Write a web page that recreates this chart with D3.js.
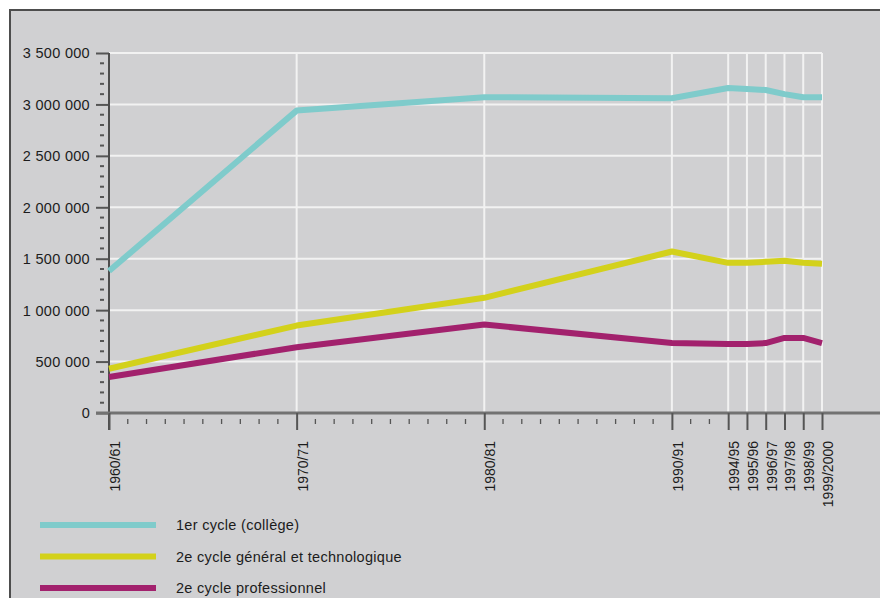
<!DOCTYPE html>
<html><head><meta charset="utf-8">
<script src="https://cdn.jsdelivr.net/npm/d3@7"></script>
<style>
body{margin:0;background:#fff}
svg{display:block}
text{font-family:"Liberation Sans",Arial,sans-serif;fill:#1c1c1c}
</style></head>
<body><svg id="c" width="880" height="598"></svg>
<script>
// ---- data ----
const periods = ["1960/61","1970/71","1980/81","1990/91","1994/95","1995/96","1996/97","1997/98","1998/99","1999/2000"];
const slots   = [0,10,20,30,33,34,35,36,37,38];           // axis position of each period (year slots)
const college       = [1380000,2940000,3070000,3060000,3160000,3150000,3140000,3100000,3070000,3070000];
const generalTechno = [430000,850000,1120000,1570000,1460000,1460000,1470000,1480000,1460000,1450000];
const professionnel = [350000,640000,860000,680000,670000,670000,680000,730000,730000,680000];
const seriesNames = ["1er cycle (collège)","2e cycle général et technologique","2e cycle professionnel"];
const seriesColors = ["#7fcbcb","#d3d11b","#a2216d"];
const yTicks = [0,500000,1000000,1500000,2000000,2500000,3000000,3500000];

const svg = d3.select("#c");
const bg = "#d0d0d2";
svg.append("rect").attr("x",10).attr("y",10).attr("width",880).attr("height",600).attr("fill",bg);
svg.append("path").attr("d","M10,598V10H880").attr("fill","none").attr("stroke","#4d4d4d").attr("stroke-width",2);

const x = d3.scaleLinear().domain([0,38]).range([109,822]);
const y = d3.scaleLinear().domain([0,3500000]).range([413,53]);

// grid
const g = svg.append("g");
g.selectAll(".hg").data(yTicks.filter(d=>d>0)).join("line")
  .attr("x1",x(0)).attr("x2",x(38)).attr("y1",d=>y(d)).attr("y2",d=>y(d))
  .attr("stroke","#f2f2f2").attr("stroke-width",2);
g.selectAll(".vg").data(slots.slice(1)).join("line")
  .attr("x1",d=>x(d)).attr("x2",d=>x(d)).attr("y1",y(3500000)).attr("y2",y(0))
  .attr("stroke","#f2f2f2").attr("stroke-width",2);

// minor y ticks
const minorY = d3.range(100000,3500000,100000).filter(v=>v%500000!==0);
svg.selectAll(".my").data(minorY).join("line")
  .attr("x1",100).attr("x2",104).attr("y1",d=>y(d)).attr("y2",d=>y(d))
  .attr("stroke","#555").attr("stroke-width",2);
// minor x ticks
const minorX = d3.range(0,39).filter(s=>!slots.includes(s));
svg.selectAll(".mx").data(minorX).join("line")
  .attr("x1",d=>x(d)).attr("x2",d=>x(d)).attr("y1",419).attr("y2",424)
  .attr("stroke","#555").attr("stroke-width",1.3);

// y axis
const loc = d3.formatLocale({decimal:",",thousands:" ",grouping:[3],currency:["","€"]});
const yAxis = d3.axisLeft(y).tickValues(yTicks).tickSize(13).tickPadding(6).tickFormat(loc.format(","));
const ya = svg.append("g").attr("transform",`translate(${x(0)},0)`).call(yAxis);
ya.select(".domain").remove();
ya.selectAll(".tick line").attr("stroke","#555").attr("stroke-width",2);
ya.selectAll(".tick text").attr("font-size",14.5).attr("fill","#1c1c1c").style("letter-spacing","0.3px").attr("dy","0.34em");
svg.append("line").attr("x1",x(0)).attr("x2",x(0)).attr("y1",y(3500000)).attr("y2",430).attr("stroke","#4d4d4d").attr("stroke-width",2);

// x axis
svg.append("line").attr("x1",96).attr("x2",880).attr("y1",y(0)).attr("y2",y(0)).attr("stroke","#727272").attr("stroke-width",3);
const xa = svg.append("g").attr("transform",`translate(0,${y(0)})`)
  .call(d3.axisBottom(x).tickValues(slots).tickSize(17).tickFormat((d,i)=>periods[i]));
xa.select(".domain").remove();
xa.selectAll(".tick line").attr("stroke","#555").attr("stroke-width",2);
xa.selectAll(".tick text")
  .attr("font-size",14).attr("fill","#1c1c1c").style("letter-spacing","0px")
  .attr("text-anchor","end").attr("transform","rotate(-90)")
  .attr("x",-28).attr("y",0).attr("dy","0.74em");

// lines
const all = [college, generalTechno, professionnel];
const line = d3.line().x((d,i)=>x(slots[i])).y(d=>y(d));
svg.selectAll(".series").data(all).join("path")
  .attr("d",line).attr("fill","none")
  .attr("stroke",(d,i)=>seriesColors[i]).attr("stroke-width",6)
  .attr("stroke-linejoin","round");

// legend
const lg = svg.selectAll(".lg").data(seriesNames).join("g")
  .attr("transform",(d,i)=>`translate(40,${525+i*31.5})`);
lg.append("line").attr("x1",0).attr("x2",116).attr("y1",0).attr("y2",0)
  .attr("stroke",(d,i)=>seriesColors[i]).attr("stroke-width",6);
lg.append("text").attr("x",136).attr("y",0).attr("dy","0.35em")
  .attr("font-size",14.5).style("letter-spacing","0.3px").text(d=>d);
</script></body></html>
